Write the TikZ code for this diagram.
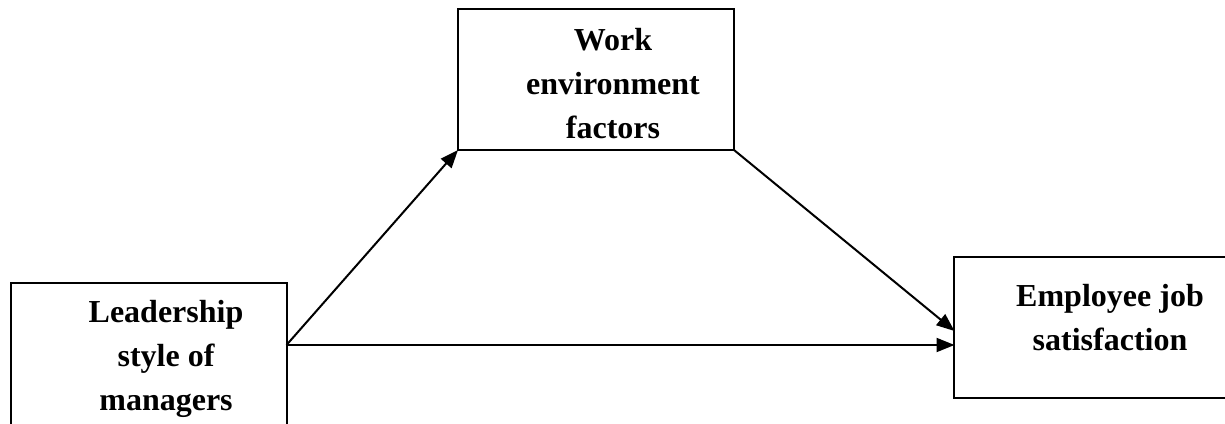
\documentclass[tikz,border=0pt]{standalone}
\usepackage{fontspec}
\setmainfont{Liberation Serif}
\usetikzlibrary{arrows.meta}
\begin{document}
\begin{tikzpicture}[x=1pt,y=-1pt,
  box/.style={draw=black, line width=2pt, minimum width=276pt, minimum height=141pt, inner sep=0pt, outer sep=0pt},
  lbl/.style={font=\bfseries\fontsize{32}{44}\selectfont, align=center, inner sep=0pt, anchor=base},
  arr/.style={line width=2pt, -{Triangle[length=18pt,width=14pt]}}]
\useasboundingbox (0,0) rectangle (1225,423);
\clip (0,0) rectangle (1225,423);
\node[box] (wef) at (596,79.5) {};
\node[box, minimum height=170pt] (lsm) at (148.5,368) {};
\node[box] (ejs) at (1092,327.5) {};
\node[lbl] (t1) at (613,138) {Work\\environment\\factors};
\node[lbl] (t2) at (166,410) {Leadership\\style of\\managers};
\node[lbl] (t3) at (1110,350) {Employee job\\satisfaction};
\coordinate (src) at (286.5,345);
\draw[arr] (src) -- (wef.south west);
\draw[arr] (wef.south east) -- (954.5,331);
\draw[arr] (src) -- (954.5,345);
\end{tikzpicture}
\end{document}
